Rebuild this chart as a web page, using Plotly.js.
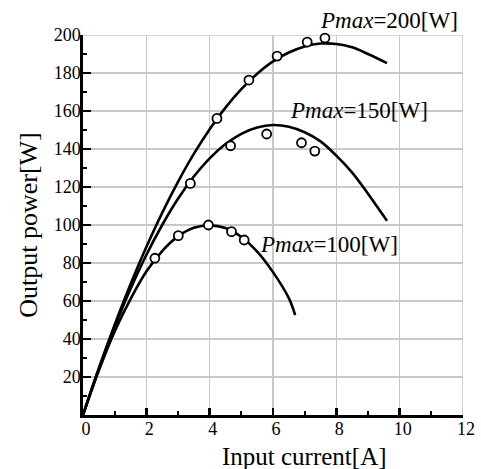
<!DOCTYPE html>
<html>
<head>
<meta charset="utf-8">
<script src="https://cdn.plot.ly/plotly-3.0.1.min.js"></script>
<style>html,body{margin:0;padding:0;background:#fff;}#chart{width:481px;height:469px;}</style>
</head>
<body>
<div id="chart"></div>
<script>
// Fitted curves
const curve200X = [0, 0.5, 1, 1.5, 2, 2.5, 3, 3.5, 4, 4.5, 5, 5.5, 6, 6.5, 7, 7.5, 8, 8.5, 9, 9.6];
const curve200Y = [0, 24.6, 47.5, 68.8, 88.4, 106.4, 122.7, 137.4, 150.4, 161.8, 171.5, 179.6, 186.1, 190.8, 194.0, 195.5, 195.3, 193.5, 190.0, 185.2];

const curve150X = [0, 0.5, 1, 1.5, 2, 2.5, 3, 3.5, 4, 4.5, 5, 5.5, 6, 6.5, 7, 7.5, 8, 8.5, 9, 9.6];
const curve150Y = [0, 24.2, 46.3, 66.3, 84.2, 100.0, 113.8, 125.5, 135.1, 142.6, 148.0, 151.3, 152.6, 151.7, 148.8, 144.0, 136.5, 127.6, 116.5, 102.2];

const curve100X = [0, 0.5, 1, 1.5, 2, 2.5, 3, 3.5, 4, 4.5, 5, 5.5, 6, 6.5, 6.7];
const curve100Y = [0, 23.4, 44.0, 61.0, 75.5, 86.3, 94.0, 98.5, 99.8, 98.4, 93.7, 86.0, 75.2, 61.5, 52.6];

// Measured points
const meas200X = [4.23, 5.24, 6.13, 7.08, 7.64];
const meas200Y = [156.1, 176.3, 188.9, 196.3, 198.4];
const meas150X = [3.39, 4.66, 5.80, 6.90, 7.32];
const meas150Y = [121.9, 141.7, 147.9, 143.3, 138.9];
const meas100X = [2.27, 3.01, 3.96, 4.69, 5.09];
const meas100Y = [82.5, 94.4, 100.0, 96.5, 92.1];

const xTickVals = [0, 2, 4, 6, 8, 10, 12];
const yTickVals = [20, 40, 60, 80, 100, 120, 140, 160, 180, 200];
const seriesLabels = ['<i>Pmax</i>=200[W]', '<i>Pmax</i>=150[W]', '<i>Pmax</i>=100[W]'];

const FONT = 'Liberation Serif';
const lineStyle = {color: '#000', width: 2.6, shape: 'spline', smoothing: 1};
const markerStyle = {symbol: 'circle', size: 9, color: '#fff', line: {color: '#000', width: 1.8}};

const traces = [
  {x: curve200X, y: curve200Y, mode: 'lines', line: lineStyle, name: 'fit 200', hoverinfo: 'skip'},
  {x: curve150X, y: curve150Y, mode: 'lines', line: lineStyle, name: 'fit 150', hoverinfo: 'skip'},
  {x: curve100X, y: curve100Y, mode: 'lines', line: lineStyle, name: 'fit 100', hoverinfo: 'skip'},
  {x: meas200X, y: meas200Y, mode: 'markers', marker: markerStyle, name: 'meas 200', cliponaxis: false},
  {x: meas150X, y: meas150Y, mode: 'markers', marker: markerStyle, name: 'meas 150', cliponaxis: false},
  {x: meas100X, y: meas100Y, mode: 'markers', marker: markerStyle, name: 'meas 100', cliponaxis: false}
];

const layout = {
  width: 481, height: 469,
  margin: {l: 83, r: 18, t: 35, b: 54},
  paper_bgcolor: '#fff', plot_bgcolor: '#fff',
  showlegend: false,
  font: {family: FONT, color: '#000', size: 18},
  xaxis: {
    range: [0, 12], tickmode: 'array', tickvals: xTickVals,
    ticks: 'inside', ticklen: 7, tickwidth: 2.5, tickcolor: '#000',
    showline: true, linecolor: '#000', linewidth: 2.6,
    showgrid: true, gridcolor: '#c8c8c8', gridwidth: 1.6,
    zeroline: false,
    ticklabelstandoff: -4, ticklabelshift: 3,
    minor: {dtick: 1, tick0: 0, ticks: 'inside', ticklen: 4, tickwidth: 2, tickcolor: '#000', showgrid: false},
    tickfont: {family: FONT, size: 18, color: '#000'}
  },
  yaxis: {
    range: [0, 200], tickmode: 'array', tickvals: yTickVals,
    ticks: 'inside', ticklen: 8, tickwidth: 2.5, tickcolor: '#000',
    showline: true, linecolor: '#000', linewidth: 2.6,
    showgrid: true, gridcolor: '#c8c8c8', gridwidth: 1.6,
    zeroline: false,
    ticklabelstandoff: -4,
    minor: {dtick: 10, tick0: 0, ticks: 'inside', ticklen: 4, tickwidth: 2, tickcolor: '#000', showgrid: false},
    tickfont: {family: FONT, size: 18, color: '#000'},
    title: {text: 'Output power[W]', font: {family: FONT, size: 26, color: '#000'}, standoff: 9}
  },
  shapes: [
    {type: 'line', xref: 'x', yref: 'y', x0: 12, x1: 12, y0: 0, y1: 200, line: {color: '#c8c8c8', width: 1.6}, layer: 'below'},
    {type: 'line', xref: 'x', yref: 'y', x0: 0, x1: 12, y0: 200, y1: 200, line: {color: '#c8c8c8', width: 1.6}, layer: 'below'}
  ],
  annotations: [
    {text: 'Input current[A]', xref: 'paper', yref: 'paper', x: 0.582, y: -0.108, xanchor: 'center', yanchor: 'middle', showarrow: false, font: {family: FONT, size: 25, color: '#000'}},
    {text: seriesLabels[0], xref: 'paper', yref: 'paper', x: 0.805, y: 1.037, xanchor: 'center', yanchor: 'middle', showarrow: false, font: {family: FONT, size: 23, color: '#000'}},
    {text: seriesLabels[1], xref: 'x', yref: 'y', x: 8.72, y: 160.5, xanchor: 'center', yanchor: 'middle', showarrow: false, font: {family: FONT, size: 23, color: '#000'}},
    {text: seriesLabels[2], xref: 'x', yref: 'y', x: 7.77, y: 89.5, xanchor: 'center', yanchor: 'middle', showarrow: false, font: {family: FONT, size: 23, color: '#000'}}
  ]
};

Plotly.newPlot('chart', traces, layout, {displayModeBar: false, staticPlot: true});
</script>
</body>
</html>
